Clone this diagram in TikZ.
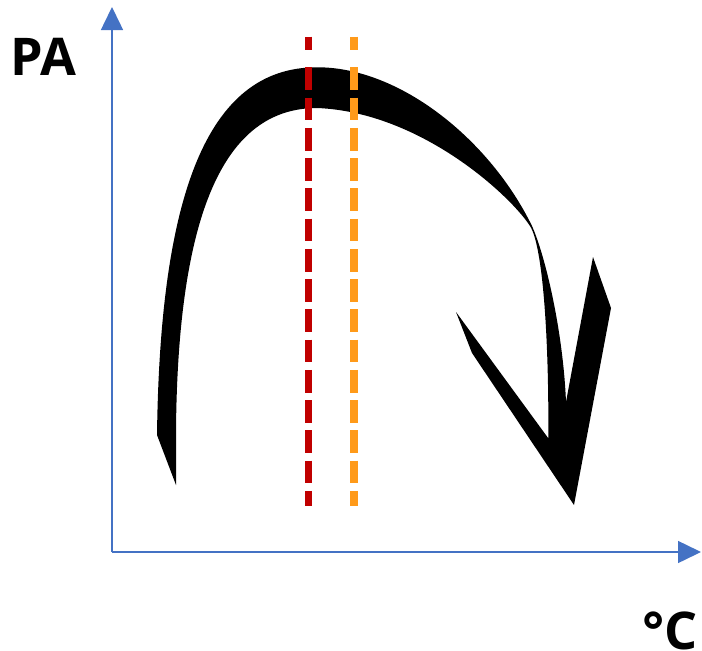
\documentclass[tikz,border=0pt]{standalone}
\usepackage{fontspec}
\setmainfont{Open Sans}
\usetikzlibrary{arrows.meta}
\definecolor{axisblue}{HTML}{4472C4}
\definecolor{dred}{HTML}{C00000}
\definecolor{dorange}{HTML}{FF9A1A}
\begin{document}
\begin{tikzpicture}[x=1pt,y=-1pt,
  axis/.style={draw=axisblue,line width=1.5pt,-{Triangle[length=23pt,width=22pt]}},
  marker/.style={line width=7.5pt},
  dashmark/.style={marker,dash pattern=on 22.7pt off 7.56pt},
  lbl/.style={font=\fontsize{52}{52}\selectfont\bfseries,inner sep=0pt}]
\useasboundingbox (0,0) rectangle (702,651);

% curved arrow
\fill[black]
  (157,435) .. controls (160,200) and (205,67) .. (317,67.3)
  .. controls (400,67) and (490,140) .. (532,226)
  .. controls (545,255) and (563,330) .. (566,402)
  -- (593,257) -- (611,308) -- (574,505) -- (472,353) -- (456,312) -- (548.3,438.3)
  .. controls (549,340) and (543,246) .. (530,226)
  .. controls (510,195) and (420,112) .. (317,108)
  .. controls (230,108) and (178,200) .. (176,430)
  -- (176,485) -- cycle;

% dashed markers
\coordinate (ra) at (308.7,36.7);
\coordinate (rb) at (308.7,50);
\coordinate (rc) at (308.7,67.3);
\coordinate (rd) at (308.7,506);
\coordinate (oa) at (354,36.7);
\coordinate (ob) at (354,50);
\coordinate (oc) at (354,67.3);
\coordinate (od) at (354,506);
\draw[marker,dred] (ra) -- (rb);
\draw[dashmark,dred] (rc) -- (rd);
\draw[marker,dorange] (oa) -- (ob);
\draw[dashmark,dorange] (oc) -- (od);

% axes
\coordinate (O) at (112,552);
\coordinate (ytip) at (112,7);
\coordinate (xtip) at (701,552);
\draw[axis] (O) -- (ytip);
\draw[axis] (O) -- (xtip);

% labels
\node[lbl,anchor=base west] (pa) at (10,75) {PA};
\node[lbl,anchor=base east] (degc) at (698,649) {°C};
\end{tikzpicture}
\end{document}
